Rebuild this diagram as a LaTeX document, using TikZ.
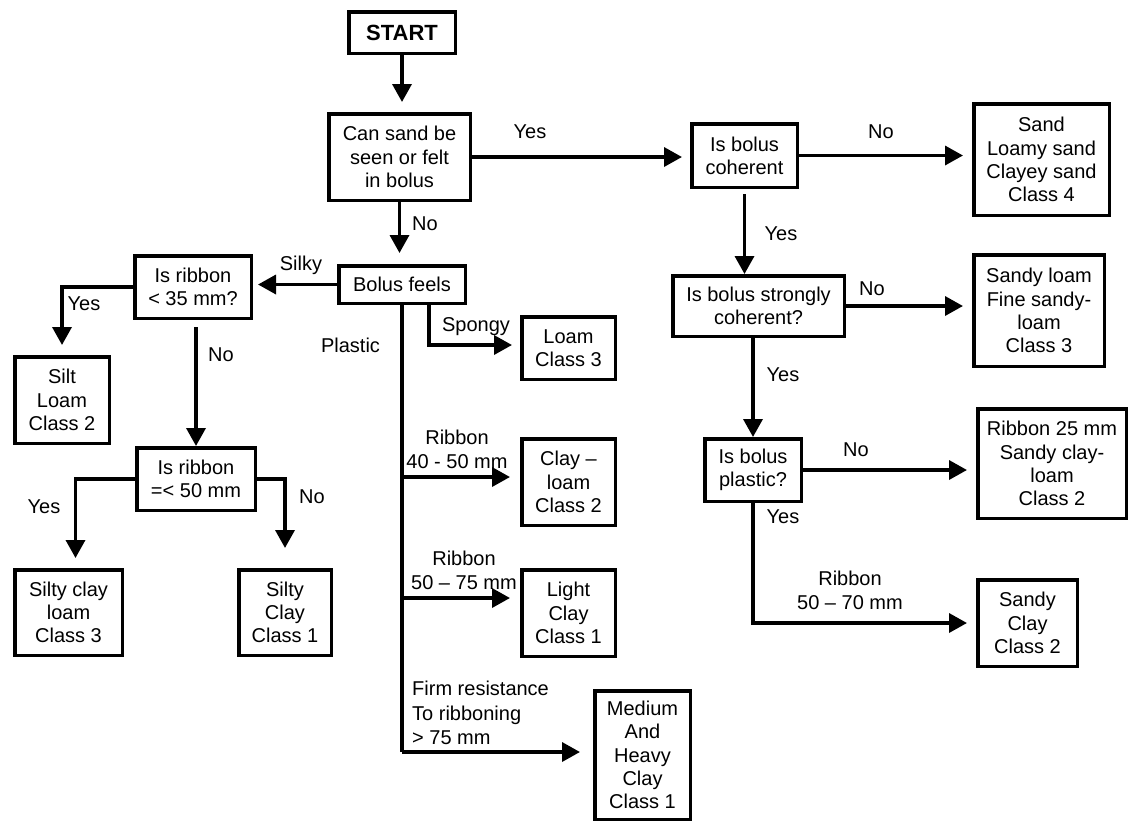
\documentclass[tikz,border=0pt]{standalone}
\usepackage{fontspec}
\setmainfont{Liberation Sans}
\usetikzlibrary{arrows.meta}
\begin{document}
\begin{tikzpicture}[x=1pt,y=-1pt,
  txt/.style={font=\fontsize{20}{23.3}\selectfont},
  box/.style={txt,draw,line width=3.5pt,align=center,inner sep=0pt},
  lbl/.style={txt,inner sep=0pt},
  ln/.style={line width=3.5pt},
  arr/.style={ln,-{Triangle[length=18pt,width=19pt]}}]
\useasboundingbox (0,0) rectangle (1130,823);

% boxes
\node[box,minimum width=106.5pt,minimum height=41.5pt,font=\fontsize{22}{24}\selectfont\bfseries] (start) at (402,32.5) {START};
\node[box,minimum width=141.5pt,minimum height=86.5pt] (can) at (399.5,157) {Can sand be\\seen or felt\\in bolus};
\node[box,minimum width=126.5pt,minimum height=37.5pt] (bf) at (402,284.5) {Bolus feels};
\node[box,minimum width=105.5pt,minimum height=63.5pt] (coh) at (744.5,155.5) {Is bolus\\coherent};
\node[box,minimum width=135.5pt,minimum height=111.5pt] (sand) at (1041.5,159.5) {Sand\\Loamy sand\\Clayey sand\\Class 4};
\node[box,minimum width=171.5pt,minimum height=60.5pt] (strong) at (758.5,306) {Is bolus strongly\\coherent?};
\node[box,minimum width=130.5pt,minimum height=111.5pt] (sloam) at (1039,310.5) {Sandy loam\\Fine sandy-\\loam\\Class 3};
\node[box,minimum width=96.5pt,minimum height=62.5pt] (plastic) at (753,470) {Is bolus\\plastic?};
\node[box,minimum width=148.5pt,minimum height=109.5pt] (r25) at (1052,463.5) {Ribbon 25 mm\\Sandy clay-\\loam\\Class 2};
\node[box,minimum width=99.5pt,minimum height=86.5pt] (sclay) at (1027.5,623) {Sandy\\Clay\\Class 2};
\node[box,minimum width=116.5pt,minimum height=62.5pt] (r35) at (193,287) {Is ribbon\\< 35 mm?};
\node[box,minimum width=94.5pt,minimum height=86.5pt] (silt) at (62,400) {Silt\\Loam\\Class 2};
\node[box,minimum width=118.5pt,minimum height=62.5pt] (r50) at (196,479) {Is ribbon\\=< 50 mm};
\node[box,minimum width=107.5pt,minimum height=85.5pt] (scl) at (68.5,612.5) {Silty clay\\loam\\Class 3};
\node[box,minimum width=92.5pt,minimum height=85.5pt] (sc) at (285,612.5) {Silty\\Clay\\Class 1};
\node[box,minimum width=93.5pt,minimum height=62.5pt] (loam) at (568.5,348) {Loam\\Class 3};
\node[box,minimum width=93.5pt,minimum height=86.5pt] (cl) at (568.5,482) {Clay –\\loam\\Class 2};
\node[box,minimum width=93.5pt,minimum height=86.5pt] (lc) at (568.5,613) {Light\\Clay\\Class 1};
\node[box,minimum width=95.5pt,minimum height=128.5pt] (med) at (642.5,755) {Medium\\And\\Heavy\\Clay\\Class 1};

% connectors (top / right)
\draw[arr,shorten >=10pt] (start.south) -- (start.south |- can.north);
\draw[arr,shorten >=11pt] (can.south) -- (can.south |- bf.north);
\draw[arr,shorten >=8pt] (can.east) -- (can.east -| coh.west);
\draw[arr,shorten >=9pt] (coh.east) -- (coh.east -| sand.west);
\draw[arr,shorten <=5pt] (coh.south) -- (coh.south |- strong.north);
\draw[arr,shorten >=9pt] (strong.east) -- (strong.east -| sloam.west);
\draw[arr] (plastic.north |- strong.south) -- (plastic.north);
\draw[arr,shorten >=9pt] (plastic.east) -- (plastic.east -| r25.west);
\draw[arr,shorten >=9pt] (plastic.south) |- (sclay.west);

% connectors (left)
\draw[arr,shorten >=5pt] (bf.west) -- (bf.west -| r35.east);
\draw[arr,shorten >=10pt] (r35.west) -| (silt.north);
\draw[arr,shorten <=7pt] (r50.north |- r35.south) -- (r50.north);
\draw[arr,shorten >=10pt] (r50.west) -| ([xshift=7pt]scl.north);
\draw[arr,shorten >=20pt] (r50.east) -| (sc.north);

% connectors (middle trunk)
\coordinate (sp) at (429,345);
\coordinate (p1) at (402,477);
\coordinate (p2) at (402,598);
\coordinate (p3) at (402,752);
\draw[arr,shorten >=8pt] (bf.south -| sp) -- (sp) -- (sp -| loam.west);
\draw[ln] (bf.south) -- (p3);
\draw[arr,shorten >=10pt] (p1) -- (p1 -| cl.west);
\draw[arr,shorten >=10pt] (p2) -- (p2 -| lc.west);
\draw[arr,shorten >=13pt] (p3) -- (p3 -| med.west);

% labels
\node[lbl] (lyes1) at (530,132) {Yes};
\node[lbl] (lno1) at (425,224) {No};
\node[lbl] (lsilky) at (301,265) {Silky};
\node[lbl] (lno2) at (881,132) {No};
\node[lbl] (lyes2) at (781,234) {Yes};
\node[lbl] (lno3) at (872,289) {No};
\node[lbl] (lyes3) at (783,375) {Yes};
\node[lbl] (lno4) at (856,450) {No};
\node[lbl] (lyes4) at (783,517) {Yes};
\node[lbl,align=center,font=\fontsize{20}{24}\selectfont] (lr5070) at (850,590) {Ribbon\\50 – 70 mm};
\node[lbl] (lyes5) at (84,304) {Yes};
\node[lbl] (lno5) at (221,355) {No};
\node[lbl] (lyes6) at (44,507) {Yes};
\node[lbl] (lno6) at (312,497) {No};
\node[lbl] (lspongy) at (476,327) {Spongy};
\node[lbl] (lplastic) at (350.5,345) {Plastic};
\node[lbl,align=center,font=\fontsize{20}{24}\selectfont] (lr4050) at (457,449) {Ribbon\\40 - 50 mm};
\node[lbl,align=center,font=\fontsize{20}{24}\selectfont] (lr5075) at (464,570) {Ribbon\\50 – 75 mm};
\node[lbl,align=left,anchor=west,font=\fontsize{20}{24.5}\selectfont] (lfirm) at (412,713) {Firm resistance\\To ribboning\\> 75 mm};
\end{tikzpicture}
\end{document}
